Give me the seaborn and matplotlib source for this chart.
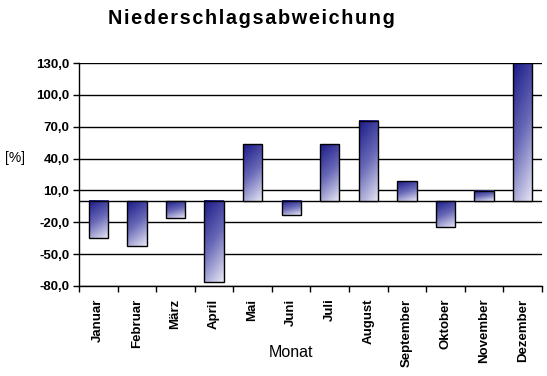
import numpy as np
import pandas as pd
import matplotlib.pyplot as plt
import seaborn as sns
from matplotlib.colors import LinearSegmentedColormap

# Monatswerte
monate = ['Januar', 'Februar', 'März', 'April', 'Mai', 'Juni', 'Juli',
          'August', 'September', 'Oktober', 'November', 'Dezember']
abweichung = [-35.0, -42.0, -15.5, -76.5, 53.5, -13.5, 53.5, 75.5, 18.5, -24.0, 9.5, 130.0]
y_ticks = [-80, -50, -20, 10, 40, 70, 100, 130]
titel = 'Niederschlagsabweichung'

df = pd.DataFrame({'Monat': monate, 'Abweichung': abweichung})

sns.set_style('white')
plt.rcParams['font.family'] = ['Liberation Sans', 'DejaVu Sans']
plt.rcParams['text.color'] = 'black'
plt.rcParams['axes.labelcolor'] = 'black'
plt.rcParams['xtick.color'] = 'black'
plt.rcParams['ytick.color'] = 'black'

fig = plt.figure(figsize=(5.47, 3.76), dpi=100)
ax = fig.add_axes([0.1444, 0.2394, 0.8464, 0.593])

sns.barplot(data=df, x='Monat', y='Abweichung', color='white', width=0.5,
            edgecolor='black', linewidth=1, ax=ax, zorder=3)

# Farbverlauf: oben dunkelblau, unten hell (leicht diagonal)
cmap = LinearSegmentedColormap.from_list('blau', ['#1a1a88', '#6a6ab8', '#e8e8f5'])
grad = np.linspace(0, 1, 200)[:, None] * 0.75 + np.linspace(0, 1, 30)[None, :] * 0.25
for p in ax.patches:
    p.set_facecolor('none')
    x0, w = p.get_x(), p.get_width()
    y0, y1 = sorted([p.get_y(), p.get_y() + p.get_height()])
    ax.imshow(grad, extent=[x0, x0 + w, y0, y1], origin='upper', aspect='auto',
              cmap=cmap, zorder=2.5, interpolation='bilinear')

ax.set_xlim(-0.5, 11.5)
ax.set_ylim(-80, 130)

ax.set_axisbelow(True)
ax.yaxis.grid(True, color='black', linewidth=1)
ax.axhline(0, color='black', linewidth=1, zorder=1)

for s in ['top', 'right']:
    ax.spines[s].set_visible(False)
for s in ['left', 'bottom']:
    ax.spines[s].set_color('black')
    ax.spines[s].set_linewidth(1)

ax.set_yticks(y_ticks)
ax.set_yticklabels([f'{v:.1f}'.replace('.', ',') for v in y_ticks],
                   fontweight='bold', fontsize=9.5)
ax.tick_params(axis='y', length=4, width=1, direction='out', pad=3, left=True)

ax.set_xticks(np.arange(-0.5, 12, 1), minor=True)
ax.set_xticks(range(len(monate)))
ax.set_xticklabels(monate, rotation=90, fontweight='bold', fontsize=9.5, ha='center', va='top')
ax.tick_params(axis='x', which='major', length=0, pad=9)
ax.tick_params(axis='x', which='minor', length=4, width=1, direction='out', bottom=True)

ax.set_xlabel('Monat', fontsize=11.5)
ax.xaxis.set_label_coords(0.457, -0.265)
ax.set_ylabel('[%]', rotation=0, fontsize=10, va='center', ha='center')
ax.yaxis.set_label_coords(-0.139, 0.574)

fig.text(0.459, 1 - 18 / 376, '\u200a'.join(titel), ha='center', va='center',
         fontsize=14.3, fontweight='bold')

fig.savefig('out.png', dpi=100, facecolor='white')
